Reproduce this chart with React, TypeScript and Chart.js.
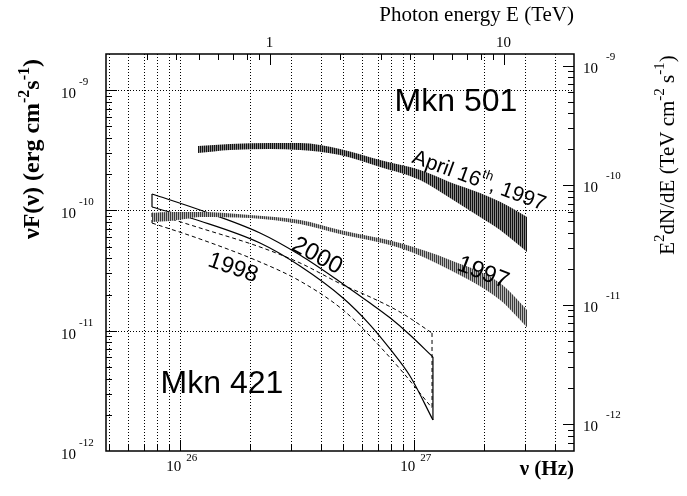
import React, { useEffect, useRef } from 'react';
import { Chart, registerables } from 'chart.js';

Chart.register(...registerables);

// ---- unit conversions / axis ranges ----
const HZ_PER_TEV = 2.418e26;
const TEV_PER_ERG = 0.624151;
const ENERGY_MIN_TEV = 0.2;
const ENERGY_MAX_TEV = 20;
const FLUX_MIN = 1e-12;
const FLUX_MAX = 2e-9;

// ---- Mkn 501, April 16th 1997 band (nu in Hz, nuFnu in erg cm^-2 s^-1) ----
const april97Nu = [1.196e26, 1.639e26, 2.429e26, 3.263e26, 4.836e26, 7.17e26, 1.063e27, 1.428e27, 1.918e27, 2.336e27, 3.046e27];
const april97Hi = [3.44e-10, 3.57e-10, 3.64e-10, 3.64e-10, 3.25e-10, 2.63e-10, 2.17e-10, 1.72e-10, 1.40e-10, 1.18e-10, 8.83e-11];
const april97Lo = [3.0e-10, 3.18e-10, 3.25e-10, 3.18e-10, 2.89e-10, 2.3e-10, 1.79e-10, 1.27e-10, 8.83e-11, 6.88e-11, 4.52e-11];

// ---- Mkn 501, 1997 band ----
const mkn501Nu = [7.605e25, 9.08e25, 1.052e26, 1.22e26, 1.995e26, 3.263e26, 4.836e26, 8.729e26, 1.428e27, 2.336e27, 3.046e27];
const mkn501Hi = [9.53e-11, 9.71e-11, 9.71e-11, 9.71e-11, 9.17e-11, 8.33e-11, 6.88e-11, 5.36e-11, 3.88e-11, 2.49e-11, 1.49e-11];
const mkn501Lo = [8.02e-11, 8.17e-11, 8.49e-11, 8.83e-11, 8.66e-11, 7.72e-11, 6.37e-11, 4.87e-11, 3.2e-11, 1.8e-11, 1.07e-11];

// ---- Mkn 421, 2000 (solid bow-tie) ----
const mkn421y2000Nu = [7.605e25, 1.22e26, 2.201e26, 3.263e26, 4.981e26, 6.497e26, 7.912e26, 9.63e26, 1.207e27];
const mkn421y2000Hi = [1.371e-10, 1.009e-10, 6.5e-11, 4.26e-11, 2.45e-11, 1.7e-11, 1.28e-11, 9.22e-12, 6.05e-12];
const mkn421y2000Lo = [1.069e-10, 8.17e-11, 5.36e-11, 3.45e-11, 1.87e-11, 1.12e-11, 7.05e-12, 4.2e-12, 1.81e-12];

// ---- Mkn 421, 1998 (dashed bow-tie) ----
const mkn421y1998Nu = [7.605e25, 1.22e26, 2.201e26, 3.263e26, 4.981e26, 6.497e26, 8.729e26, 1.196e27];
const mkn421y1998Hi = [9.53e-11, 7.15e-11, 4.97e-11, 3.66e-11, 2.4e-11, 1.91e-11, 1.43e-11, 9.58e-12];
const mkn421y1998Lo = [7.86e-11, 5.79e-11, 3.73e-11, 2.59e-11, 1.49e-11, 9.04e-12, 4.81e-12, 2.28e-12];

// ---- tick labels ----
const nuLabelExponents = [26, 27];
const fluxLabelExponents = [-12, -11, -10, -9];
const fluxGridExponents = [-11, -10, -9];
const energyLabelValues = [1, 10];
const rightLabelExponents = [-12, -11, -10, -9];

// ---- in-plot annotations (data coordinates: nu [Hz], nuFnu [erg]) ----
const annotationTexts = [
  { parts: [{ t: 'Mkn 501' }], nu: 1.514e27, flux: 7.98e-10, angle: 0, size: 32 },
  { parts: [{ t: 'Mkn 421' }], nu: 1.514e26, flux: 3.61e-12, angle: 0, size: 32 },
  { parts: [{ t: 'April 16' }, { t: 'th', sup: true }, { t: ', 1997' }], nu: 1.9e27, flux: 1.76e-10, angle: 20, size: 21 },
  { parts: [{ t: '1997' }], nu: 1.975e27, flux: 3.02e-11, angle: 21, size: 24 },
  { parts: [{ t: '2000' }], nu: 3.858e26, flux: 4.18e-11, angle: 28, size: 24 },
  { parts: [{ t: '1998' }], nu: 1.688e26, flux: 3.32e-11, angle: 19, size: 23 },
];

const SERIF = '"Liberation Serif", "Times New Roman", serif';
const SANS = '"Liberation Sans", Arial, sans-serif';

function logSteps(min: number, max: number) {
  const out: { v: number; major: boolean }[] = [];
  const e0 = Math.floor(Math.log10(min));
  const e1 = Math.ceil(Math.log10(max));
  for (let e = e0; e <= e1; e++) {
    for (let m = 1; m <= 9; m++) {
      const v = m * Math.pow(10, e);
      if (v >= min * 0.9999 && v <= max * 1.0001) out.push({ v, major: m === 1 });
    }
  }
  return out;
}

type Part = { t: string; sup?: boolean };

function drawRich(ctx: CanvasRenderingContext2D, parts: { t: string; font: string; dy: number }[], x: number, y: number, align: 'left' | 'center' | 'right') {
  const widths = parts.map((p) => {
    ctx.font = p.font;
    return ctx.measureText(p.t).width;
  });
  const total = widths.reduce((a, b) => a + b, 0);
  let xx = align === 'left' ? x : align === 'center' ? x - total / 2 : x - total;
  ctx.textAlign = 'left';
  parts.forEach((p, i) => {
    ctx.font = p.font;
    ctx.fillText(p.t, xx, y + p.dy);
    xx += widths[i];
  });
}

const pts = (xs: number[], ys: number[]) => xs.map((x, i) => ({ x, y: ys[i] }));
const edge = (xs: number[], hi: number[], lo: number[], i: number) => [
  { x: xs[i], y: hi[i] },
  { x: xs[i], y: lo[i] },
];

const rootAxesPlugin = {
  id: 'rootAxes',
  beforeDatasetsDraw(chart: any) {
    const { ctx, chartArea: a, scales } = chart;
    const xs = scales.x;
    const ys = scales.y;
    ctx.save();
    ctx.strokeStyle = '#000';
    ctx.lineWidth = 1;
    ctx.setLineDash([1, 2]);
    for (const t of logSteps(xs.min, xs.max)) {
      const px = Math.round(xs.getPixelForValue(t.v)) + 0.5;
      if (px <= a.left + 1 || px >= a.right - 1) continue;
      ctx.beginPath();
      ctx.moveTo(px, a.top);
      ctx.lineTo(px, a.bottom);
      ctx.stroke();
    }
    for (const e of fluxGridExponents) {
      const py = Math.round(ys.getPixelForValue(Math.pow(10, e))) + 0.5;
      ctx.beginPath();
      ctx.moveTo(a.left, py);
      ctx.lineTo(a.right, py);
      ctx.stroke();
    }
    ctx.restore();
  },
  afterDatasetsDraw(chart: any) {
    const { ctx, scales } = chart;
    ctx.save();
    ctx.fillStyle = '#000';
    ctx.textBaseline = 'middle';
    for (const an of annotationTexts) {
      const cx = scales.x.getPixelForValue(an.nu);
      const cy = scales.y.getPixelForValue(an.flux);
      ctx.save();
      ctx.translate(cx, cy);
      ctx.rotate((an.angle * Math.PI) / 180);
      const parts = (an.parts as Part[]).map((p) => ({
        t: p.t,
        font: `${p.sup ? Math.round(an.size * 0.62) : an.size}px ${SANS}`,
        dy: p.sup ? -an.size * 0.38 : 0,
      }));
      drawRich(ctx, parts, 0, 0, 'center');
      ctx.restore();
    }
    ctx.restore();
  },
  afterDraw(chart: any) {
    const { ctx, chartArea: a, scales } = chart;
    const { x, y, x2, y2 } = scales;
    ctx.save();
    ctx.strokeStyle = '#000';
    ctx.fillStyle = '#000';
    ctx.setLineDash([]);
    // frame
    ctx.lineWidth = 1.5;
    ctx.strokeRect(a.left, a.top, a.right - a.left, a.bottom - a.top);
    ctx.lineWidth = 1;
    const MAJ = 11;
    const MIN = 6;
    // bottom ticks
    for (const t of logSteps(x.min, x.max)) {
      const px = Math.round(x.getPixelForValue(t.v)) + 0.5;
      if (px <= a.left + 1 || px >= a.right - 1) continue;
      ctx.beginPath();
      ctx.moveTo(px, a.bottom);
      ctx.lineTo(px, a.bottom - (t.major ? MAJ : MIN));
      ctx.stroke();
    }
    // top ticks (photon energy)
    for (const t of logSteps(x2.min, x2.max)) {
      const px = Math.round(x2.getPixelForValue(t.v)) + 0.5;
      if (px <= a.left + 1 || px >= a.right - 1) continue;
      ctx.beginPath();
      ctx.moveTo(px, a.top);
      ctx.lineTo(px, a.top + (t.major ? MAJ : MIN));
      ctx.stroke();
    }
    // left ticks
    for (const t of logSteps(y.min, y.max)) {
      const py = Math.round(y.getPixelForValue(t.v)) + 0.5;
      if (py <= a.top + 1 || py >= a.bottom - 1) continue;
      ctx.beginPath();
      ctx.moveTo(a.left, py);
      ctx.lineTo(a.left + (t.major ? MAJ : MIN), py);
      ctx.stroke();
    }
    // right ticks
    for (const t of logSteps(y2.min, y2.max)) {
      const py = Math.round(y2.getPixelForValue(t.v)) + 0.5;
      if (py <= a.top + 1 || py >= a.bottom - 1) continue;
      ctx.beginPath();
      ctx.moveTo(a.right, py);
      ctx.lineTo(a.right - (t.major ? MAJ : MIN), py);
      ctx.stroke();
    }

    const F10 = `15px ${SERIF}`;
    const FEXP = `11px ${SERIF}`;
    ctx.textBaseline = 'alphabetic';
    // bottom labels
    for (const e of nuLabelExponents) {
      const px = x.getPixelForValue(Math.pow(10, e));
      ctx.font = F10;
      const w10 = ctx.measureText('10').width;
      ctx.font = FEXP;
      const we = ctx.measureText(String(e)).width;
      const total = w10 + 5 + we;
      const start = px + 2 - total / 2;
      ctx.font = F10;
      ctx.textAlign = 'left';
      ctx.fillText('10', start, a.bottom + 20);
      ctx.font = FEXP;
      ctx.fillText(String(e), start + w10 + 5, a.bottom + 10);
    }
    // left labels
    for (const e of fluxLabelExponents) {
      const py = y.getPixelForValue(Math.pow(10, e));
      ctx.font = F10;
      ctx.textAlign = 'right';
      ctx.fillText('10', a.left - 30, py + 8);
      ctx.font = FEXP;
      ctx.textAlign = 'left';
      ctx.fillText(String(e), a.left - 27, py - 5);
    }
    // right labels
    for (const e of rightLabelExponents) {
      const py = y2.getPixelForValue(Math.pow(10, e));
      ctx.font = F10;
      ctx.textAlign = 'left';
      ctx.fillText('10', a.right + 9, py + 7);
      ctx.font = FEXP;
      ctx.fillText(String(e), a.right + 32, py - 6);
    }
    // top labels
    for (const v of energyLabelValues) {
      const px = x2.getPixelForValue(v);
      ctx.font = F10;
      ctx.textAlign = 'center';
      ctx.fillText(String(v), px, a.top - 7);
    }

    // axis titles
    ctx.font = `21px ${SERIF}`;
    ctx.textAlign = 'right';
    ctx.fillText('Photon energy E (TeV)', a.right, 21);
    ctx.font = `bold 21px ${SERIF}`;
    ctx.fillText('\u03bd (Hz)', a.right, a.bottom + 24);

    // left title (rotated)
    ctx.save();
    ctx.translate(39, 149);
    ctx.rotate(-Math.PI / 2);
    drawRich(
      ctx,
      [
        { t: '\u03bdF(\u03bd) (erg cm', font: `bold 24px ${SERIF}`, dy: 0 },
        { t: '-2', font: `bold 16px ${SERIF}`, dy: -10 },
        { t: 's', font: `bold 24px ${SERIF}`, dy: 0 },
        { t: '-1', font: `bold 16px ${SERIF}`, dy: -10 },
        { t: ')', font: `bold 24px ${SERIF}`, dy: 0 },
      ],
      0,
      0,
      'center'
    );
    ctx.restore();

    // right title (rotated)
    ctx.save();
    ctx.translate(674, 155);
    ctx.rotate(-Math.PI / 2);
    drawRich(
      ctx,
      [
        { t: 'E', font: `21px ${SERIF}`, dy: 0 },
        { t: '2', font: `15px ${SERIF}`, dy: -10 },
        { t: 'dN/dE (TeV cm', font: `21px ${SERIF}`, dy: 0 },
        { t: '-2', font: `15px ${SERIF}`, dy: -10 },
        { t: ' s', font: `21px ${SERIF}`, dy: 0 },
        { t: '-1', font: `15px ${SERIF}`, dy: -10 },
        { t: ')', font: `21px ${SERIF}`, dy: 0 },
      ],
      0,
      0,
      'center'
    );
    ctx.restore();
    ctx.restore();
  },
};

export default function App() {
  const canvasRef = useRef<HTMLCanvasElement | null>(null);

  useEffect(() => {
    document.body.style.margin = '0';
    const canvas = canvasRef.current;
    if (!canvas) return;
    const ctx = canvas.getContext('2d')!;

    const stripes = (dark: string, light: string) => {
      const c = document.createElement('canvas');
      c.width = 2;
      c.height = 1;
      const g = c.getContext('2d')!;
      g.fillStyle = light;
      g.fillRect(0, 0, 2, 1);
      g.fillStyle = dark;
      g.fillRect(0, 0, 1, 1);
      return ctx.createPattern(c, 'repeat') as CanvasPattern;
    };
    const darkHatch = stripes('#111111', '#8a8a8a');
    const lightHatch = stripes('#3c3c3c', '#b8b8b8');

    const bandCommon = {
      borderWidth: 0,
      pointRadius: 0,
      cubicInterpolationMode: 'monotone' as const,
    };
    const lineCommon = {
      borderColor: '#000',
      borderWidth: 1.2,
      pointRadius: 0,
      fill: false,
    };

    const datasets: any[] = [
      { label: 'Mkn 501 April 16th 1997 upper', data: pts(april97Nu, april97Hi), fill: '+1', backgroundColor: darkHatch, ...bandCommon },
      { label: 'Mkn 501 April 16th 1997 lower', data: pts(april97Nu, april97Lo), fill: false, ...bandCommon },
      { label: 'Mkn 501 1997 upper', data: pts(mkn501Nu, mkn501Hi), fill: '+1', backgroundColor: lightHatch, ...bandCommon },
      { label: 'Mkn 501 1997 lower', data: pts(mkn501Nu, mkn501Lo), fill: false, ...bandCommon },

      { label: 'Mkn 421 2000 upper', data: pts(mkn421y2000Nu, mkn421y2000Hi), cubicInterpolationMode: 'monotone', ...lineCommon },
      { label: 'Mkn 421 2000 lower', data: pts(mkn421y2000Nu, mkn421y2000Lo), cubicInterpolationMode: 'monotone', ...lineCommon },
      { label: 'Mkn 421 2000 left', data: edge(mkn421y2000Nu, mkn421y2000Hi, mkn421y2000Lo, 0), ...lineCommon },
      { label: 'Mkn 421 2000 right', data: edge(mkn421y2000Nu, mkn421y2000Hi, mkn421y2000Lo, mkn421y2000Nu.length - 1), ...lineCommon },

      { label: 'Mkn 421 1998 upper', data: pts(mkn421y1998Nu, mkn421y1998Hi), cubicInterpolationMode: 'monotone', borderDash: [4, 3], ...lineCommon, borderWidth: 1 },
      { label: 'Mkn 421 1998 lower', data: pts(mkn421y1998Nu, mkn421y1998Lo), cubicInterpolationMode: 'monotone', borderDash: [4, 3], ...lineCommon, borderWidth: 1 },
      { label: 'Mkn 421 1998 left', data: edge(mkn421y1998Nu, mkn421y1998Hi, mkn421y1998Lo, 0), borderDash: [4, 3], ...lineCommon, borderWidth: 1 },
      { label: 'Mkn 421 1998 right', data: edge(mkn421y1998Nu, mkn421y1998Hi, mkn421y1998Lo, mkn421y1998Nu.length - 1), borderDash: [4, 3], ...lineCommon, borderWidth: 1 },
    ];

    const chart = new Chart(canvas, {
      type: 'line',
      data: { datasets },
      options: {
        responsive: false,
        animation: false,
        events: [],
        layout: { padding: { left: 106, right: 113, top: 54, bottom: 45 } },
        plugins: {
          legend: { display: false },
          tooltip: { enabled: false },
          title: { display: false },
        },
        scales: {
          x: { type: 'logarithmic', position: 'bottom', min: ENERGY_MIN_TEV * HZ_PER_TEV, max: ENERGY_MAX_TEV * HZ_PER_TEV, display: false },
          y: { type: 'logarithmic', position: 'left', min: FLUX_MIN, max: FLUX_MAX, display: false },
          x2: { type: 'logarithmic', position: 'top', min: ENERGY_MIN_TEV, max: ENERGY_MAX_TEV, display: false },
          y2: { type: 'logarithmic', position: 'right', min: FLUX_MIN * TEV_PER_ERG, max: FLUX_MAX * TEV_PER_ERG, display: false },
        },
      } as any,
      plugins: [rootAxesPlugin],
    });

    return () => chart.destroy();
  }, []);

  return <canvas ref={canvasRef} width={687} height={496} style={{ display: 'block' }} />;
}
